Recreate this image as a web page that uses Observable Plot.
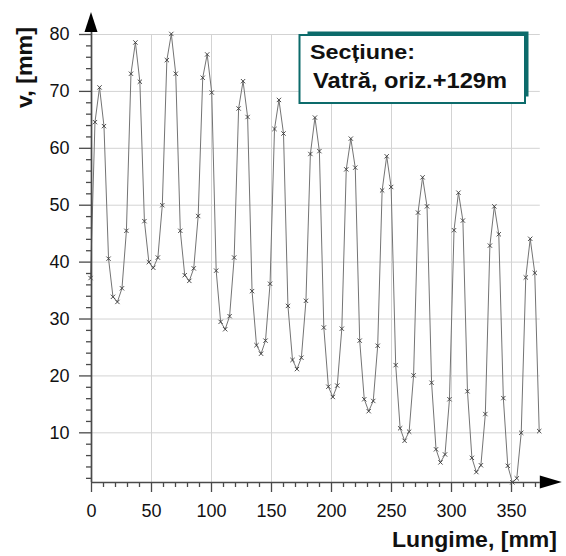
<!DOCTYPE html>
<html>
<head>
<meta charset="utf-8">
<script src="https://cdn.jsdelivr.net/npm/d3@7"></script>
<script src="https://cdn.jsdelivr.net/npm/@observablehq/plot@0.6"></script>
<style>
  html, body { margin: 0; padding: 0; background: #fff; }
  #chart { width: 566px; height: 556px; overflow: hidden; }
</style>
</head>
<body>
<div id="chart"></div>
<script>
// Length along the section [mm]
const lungime = [
  -0.8, 2.9, 6.7, 10.4, 14.2, 17.9, 21.6, 25.4, 29.1, 32.9,
  36.6, 40.3, 44.1, 47.8, 51.5, 55.3, 59.0, 62.8, 66.5, 70.2,
  74.0, 77.7, 81.5, 85.2, 88.9, 92.7, 96.4, 100.2, 103.9, 107.6,
  111.4, 115.1, 118.9, 122.6, 126.3, 130.1, 133.8, 137.5, 141.3, 145.0,
  148.8, 152.5, 156.2, 160.0, 163.7, 167.5, 171.2, 174.9, 178.7, 182.4,
  186.2, 189.9, 193.6, 197.4, 201.1, 204.8, 208.6, 212.3, 216.1, 219.8,
  223.5, 227.3, 231.0, 234.8, 238.5, 242.2, 246.0, 249.7, 253.5, 257.2,
  260.9, 264.7, 268.4, 272.1, 275.9, 279.6, 283.4, 287.1, 290.8, 294.6,
  298.3, 302.1, 305.8, 309.5, 313.3, 317.0, 320.7, 324.5, 328.2, 332.0,
  335.7, 339.4, 343.2, 346.9, 350.7, 354.4, 358.1, 361.9, 365.6, 369.4,
  373.1
];
// Measured v [mm]
const vValues = [
  37.2, 64.6, 70.7, 63.9, 40.6, 33.9, 33.0, 35.4, 45.5, 73.1,
  78.6, 71.7, 47.2, 40.0, 39.0, 40.8, 50.0, 75.5, 80.1, 73.1,
  45.5, 37.7, 36.7, 38.9, 48.1, 72.4, 76.5, 69.8, 38.5, 29.5,
  28.2, 30.5, 40.8, 67.0, 71.8, 65.5, 34.9, 25.4, 23.9, 26.2,
  36.2, 63.4, 68.5, 62.6, 32.3, 22.8, 21.2, 23.2, 33.2, 59.0,
  65.4, 59.5, 28.5, 18.1, 16.3, 18.3, 28.3, 56.3, 61.7, 56.6,
  26.2, 15.9, 13.8, 15.6, 25.3, 52.6, 58.6, 53.2, 21.9, 10.8,
  8.6, 10.2, 20.1, 48.7, 54.9, 49.8, 18.8, 7.1, 4.8, 6.2,
  15.9, 45.6, 52.2, 47.3, 17.3, 5.6, 3.1, 4.3, 13.3, 42.9,
  49.8, 44.9, 16.1, 4.2, 1.3, 2.0, 10.0, 37.3, 44.1, 38.1,
  10.3
];
const xMajorTicks = [0, 50, 100, 150, 200, 250, 300, 350];
const yMajorTicks = [10, 20, 30, 40, 50, 60, 70, 80];
const xMinorTicks = d3.range(10, 371, 10).filter(d => d % 50 !== 0);
const yMinorTicks = d3.range(2, 80, 2).filter(d => d % 10 !== 0);
const xDomain = [0, 374];
const yDomain = [1.27, 80];
const legendLines = ["Secțiune:", "Vatră, oriz.+129m"];
const xLabel = "Lungime, [mm]";
const yLabel = "v, [mm]";

const data = lungime.map((x, i) => ({x, v: vValues[i]}));

const gridColor = "#d3d3d3";
const axisColor = "#4a4a4a";
const font = "'Liberation Sans', Arial, sans-serif";

const plot = Plot.plot({
  width: 566,
  height: 556,
  marginLeft: 91,
  marginRight: 26.2,
  marginTop: 34,
  marginBottom: 74,
  x: {domain: xDomain},
  y: {domain: yDomain},
  style: {fontFamily: font, color: "#111", background: "#fff", overflow: "visible"},
  marks: [
    Plot.ruleY(yMajorTicks, {x1: xDomain[0], x2: xDomain[1], stroke: gridColor, strokeWidth: 1}),
    Plot.ruleX(xMajorTicks.filter(d => d > 0), {y1: yDomain[0], y2: 80, stroke: gridColor, strokeWidth: 1}),
    Plot.line(data, {x: "x", y: "v", stroke: "#747474", strokeWidth: 1}),
    Plot.dot(data, {x: "x", y: "v", symbol: "times", r: 2.1, stroke: "#3a3a3a", strokeWidth: 0.9}),
    Plot.axisY(yMinorTicks, {anchor: "left", tickSize: 5, tickFormat: () => "", stroke: axisColor, strokeWidth: 1.3, label: null}),
    Plot.axisY(yMajorTicks, {anchor: "left", tickSize: 12, tickPadding: 10, fontSize: 18, stroke: axisColor, strokeWidth: 1.3, label: null}),
    Plot.axisX(xMinorTicks, {anchor: "bottom", tickSize: 5, tickFormat: () => "", stroke: axisColor, strokeWidth: 1.3, label: null}),
    Plot.axisX(xMajorTicks, {anchor: "bottom", tickSize: 10, tickPadding: 12, fontSize: 18, stroke: axisColor, strokeWidth: 1.3, label: null}),
    Plot.ruleY([yDomain[0]], {x1: xDomain[0], x2: xDomain[1], stroke: axisColor, strokeWidth: 1.7}),
    Plot.ruleX([0], {y1: yDomain[0], y2: 80.35, stroke: axisColor, strokeWidth: 1.7})
  ]
});

document.getElementById("chart").appendChild(plot);

const svg = d3.select(plot);
const sx = plot.scale("x");
const sy = plot.scale("y");

// Axis arrowheads
const ax0 = sx.apply(0);
const ayTop = sy.apply(80.35);
svg.append("polygon")
  .attr("points", `${ax0 - 6.5},${ayTop} ${ax0 + 6.5},${ayTop} ${ax0},${ayTop - 20}`)
  .attr("fill", "#000");
const axEnd = sx.apply(xDomain[1]);
const ayBase = sy.apply(yDomain[0]);
svg.append("polygon")
  .attr("points", `${axEnd},${ayBase - 6.5} ${axEnd},${ayBase + 6.5} ${axEnd + 22},${ayBase}`)
  .attr("fill", "#000");

// Axis labels
svg.append("text")
  .attr("transform", "translate(24,67.5) rotate(-90)")
  .attr("text-anchor", "middle")
  .attr("dominant-baseline", "central")
  .attr("font-family", font)
  .attr("font-weight", "bold")
  .attr("font-size", 22)
  .attr("fill", "#111")
  .attr("textLength", 81)
  .attr("lengthAdjust", "spacingAndGlyphs")
  .text(yLabel);

svg.append("text")
  .attr("x", 557)
  .attr("y", 547)
  .attr("text-anchor", "end")
  .attr("font-family", font)
  .attr("font-weight", "bold")
  .attr("font-size", 22)
  .attr("fill", "#111")
  .attr("textLength", 165)
  .attr("lengthAdjust", "spacingAndGlyphs")
  .text(xLabel);

// Legend box
const teal = "#0c6b6b";
const box = {x: 299.5, y: 35, w: 225.5, h: 68};
svg.append("rect")
  .attr("x", box.x + 8).attr("y", box.y - 3.5)
  .attr("width", box.w - 4.5).attr("height", box.h - 3)
  .attr("fill", teal);
svg.append("rect")
  .attr("x", box.x).attr("y", box.y)
  .attr("width", box.w).attr("height", box.h)
  .attr("fill", "#fff").attr("stroke", teal).attr("stroke-width", 2);
svg.append("text")
  .attr("x", 310).attr("y", 58.5)
  .attr("text-anchor", "start")
  .attr("font-family", font)
  .attr("font-weight", "bold").attr("font-size", 21).attr("fill", "#111")
  .attr("textLength", 105).attr("lengthAdjust", "spacingAndGlyphs")
  .text(legendLines[0]);
svg.append("text")
  .attr("x", 313).attr("y", 88)
  .attr("text-anchor", "start")
  .attr("font-family", font)
  .attr("font-weight", "bold").attr("font-size", 22).attr("fill", "#111")
  .attr("textLength", 194).attr("lengthAdjust", "spacingAndGlyphs")
  .text(legendLines[1]);
</script>
</body>
</html>
